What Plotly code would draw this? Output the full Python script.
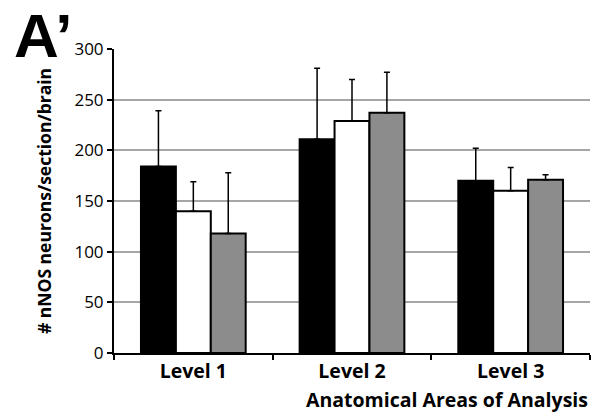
import plotly.graph_objects as go

categories = ["Level 1", "Level 2", "Level 3"]
series_black = [184, 211, 170]
series_black_err = [55, 70, 32]
series_white = [140, 229, 160]
series_white_err = [29, 41, 23]
series_gray = [118, 237, 171]
series_gray_err = [60, 40, 5]
y_ticks = [0, 50, 100, 150, 200, 250, 300]

fig = go.Figure()
for vals, errs, color in [
    (series_black, series_black_err, "#000000"),
    (series_white, series_white_err, "#ffffff"),
    (series_gray, series_gray_err, "#8c8c8c"),
]:
    fig.add_trace(go.Bar(
        x=categories, y=vals,
        marker=dict(color=color, line=dict(color="#000000", width=2)),
        error_y=dict(type="data", array=errs, symmetric=False, arrayminus=[0]*len(errs),
                     color="#000000", thickness=1.5, width=3),
        showlegend=False,
    ))

fig.update_layout(
    width=605, height=413,
    margin=dict(l=114, r=15, t=49, b=60),
    plot_bgcolor="white", paper_bgcolor="white",
    barmode="group", bargap=0.34, bargroupgap=0,
    font=dict(family="Open Sans, DejaVu Sans, sans-serif", color="#000000"),
    xaxis=dict(
        showline=True, linecolor="#000000", linewidth=2,
        ticks="outside", tickson="boundaries", ticklen=5, tickwidth=2, tickcolor="#000000",
        tickfont=dict(size=19.5, family="Open Sans, sans-serif", weight="bold"),
        showgrid=False,
    ),
    yaxis=dict(
        range=[0, 300], tickvals=y_ticks,
        showline=True, linecolor="#000000", linewidth=2,
        ticks="outside", ticklen=5, tickwidth=2, tickcolor="#000000",
        tickfont=dict(size=17),
        showgrid=True, gridcolor="#a6a6a6", gridwidth=1.5,
        zeroline=False,
        title=dict(text="# nNOS neurons/section/brain",
                   font=dict(size=17.5, weight="bold"), standoff=18),
    ),
    annotations=[
        dict(text="Anatomical Areas of Analysis", xref="paper", yref="paper",
             x=1.0, y=0, xanchor="right", yanchor="middle", yshift=-46,
             showarrow=False, font=dict(size=19.5, weight="bold")),
        dict(text="A’", xref="paper", yref="paper", x=0, y=1, xanchor="left", yanchor="top",
             xshift=-102, yshift=50, showarrow=False,
             font=dict(size=62, weight="bold", family="Liberation Sans, Arial, sans-serif")),
    ],
)

fig.write_html("out.html", config={"displayModeBar": False},
               post_script="document.body.style.margin='0';document.body.style.overflow='hidden';")
